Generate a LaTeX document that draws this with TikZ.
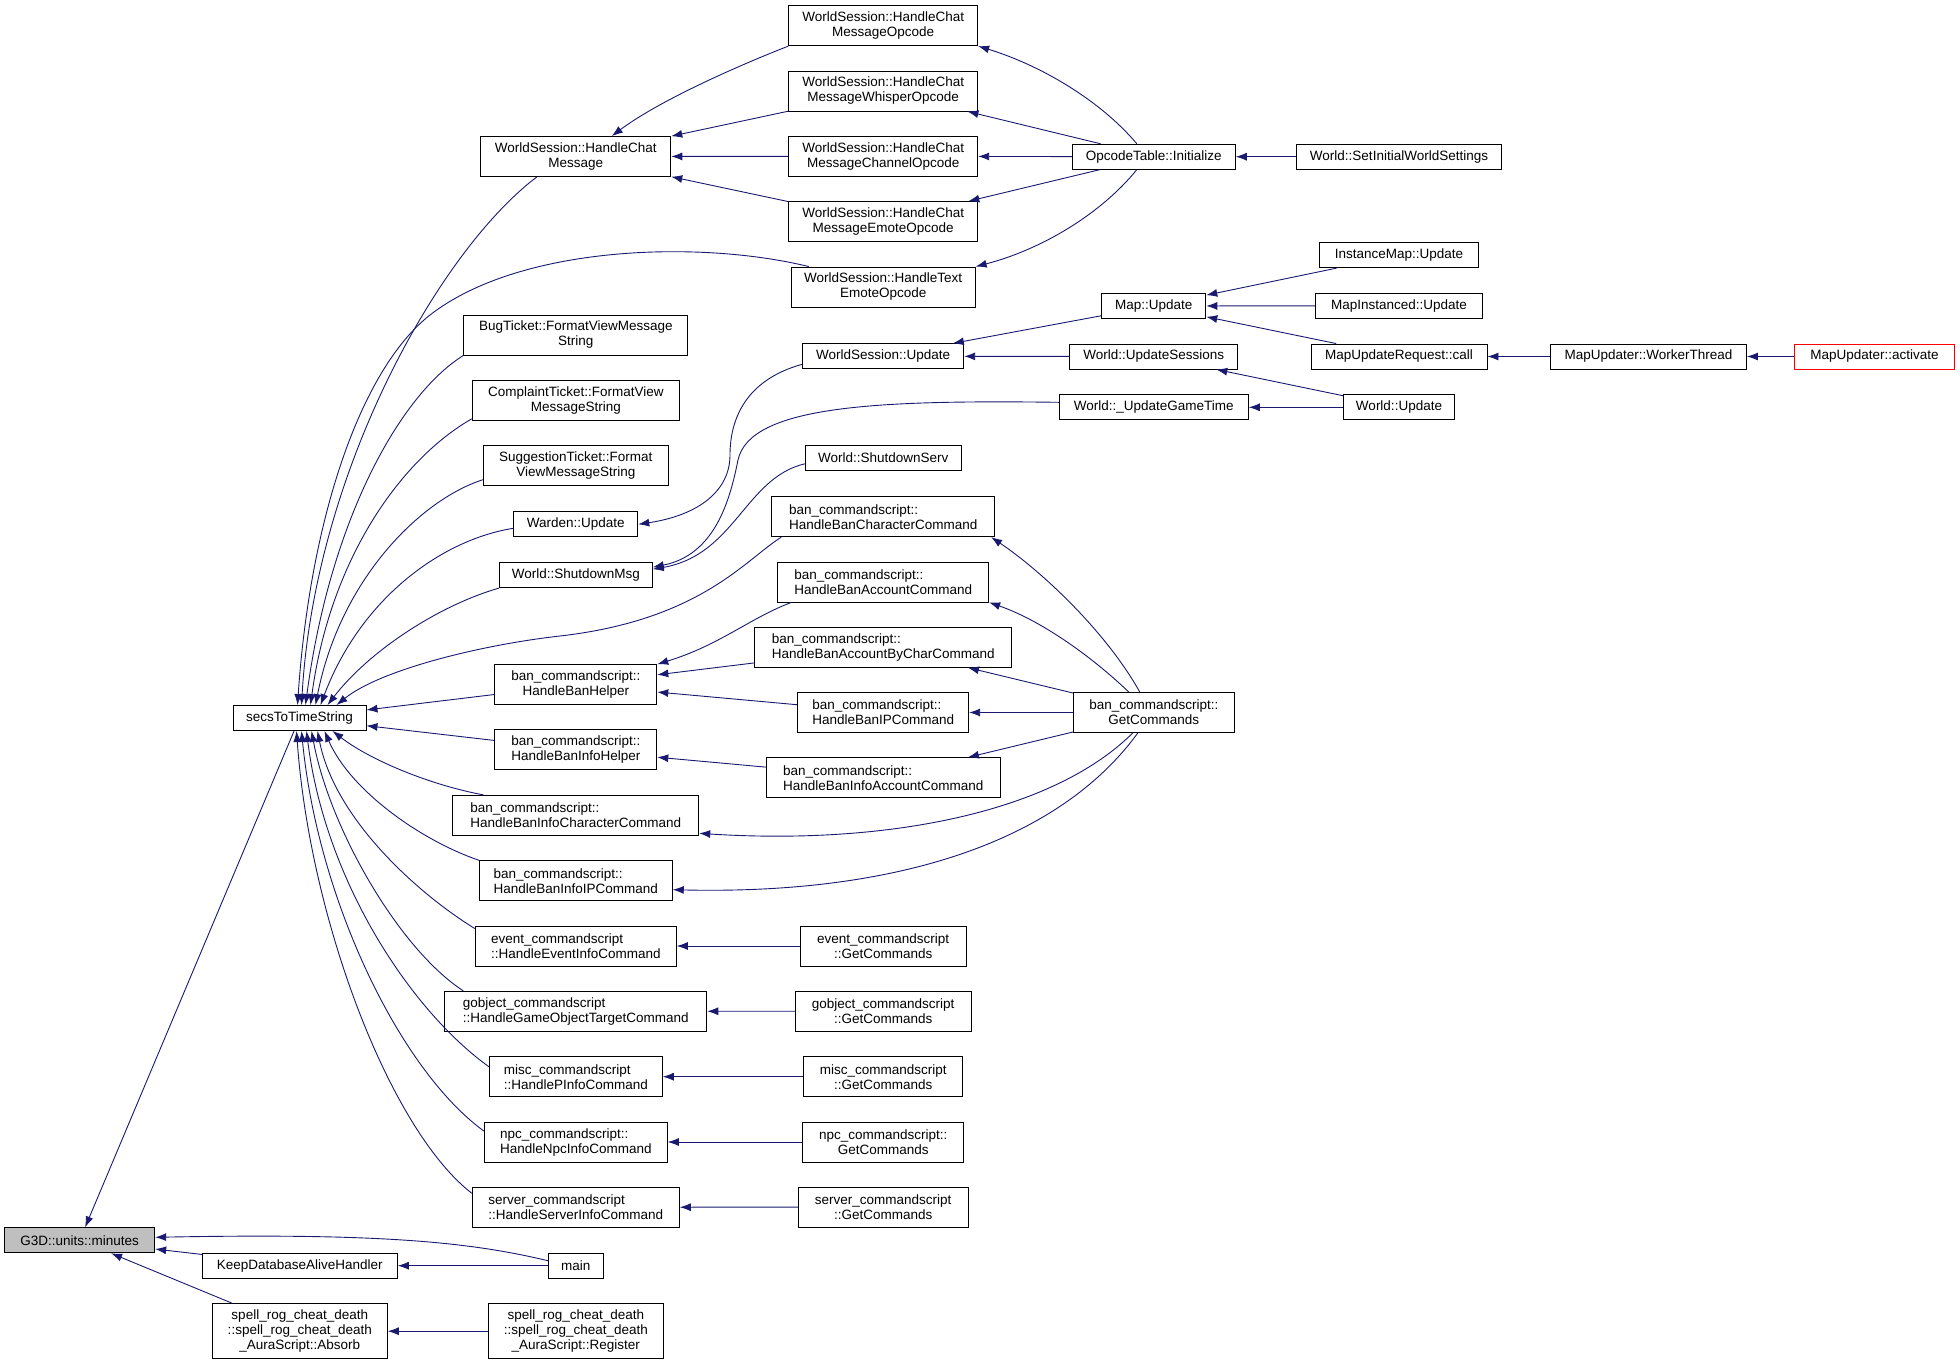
\documentclass[tikz,border=0pt]{standalone}
\usepackage{fontspec}
\newfontfamily\dxfont{Liberation Sans}
\usetikzlibrary{arrows.meta}
\definecolor{edgeblue}{RGB}{25,25,112}
\definecolor{hilite}{RGB}{191,191,191}
\begin{document}
\begin{tikzpicture}[x=1pt,y=-1pt,
	fn/.style={draw=black,line width=0.9pt,fill=white,inner xsep=0pt,inner ysep=2pt,minimum height=25pt,align=center,font=\dxfont\fontsize{13.5}{15}\selectfont},
	two/.style={minimum height=40pt},
	three/.style={minimum height=55pt},
	lft/.style={align=left},
	call/.style={draw=edgeblue,line width=0.9pt,{Latex[length=11pt,width=8pt]}-}]
	\useasboundingbox (0,0) rectangle (1960,1365);
	% column 0 and 1
	\node[fn,fill=hilite,minimum width=150pt] (minutes) at (79.7,1240.3) {G3D::units::minutes};
	\node[fn,minimum width=133pt] (secs) at (299.5,718) {secsToTimeString};
	\node[fn,minimum width=195pt] (keep) at (299.8,1265.7) {KeepDatabaseAliveHandler};
	\node[fn,three,minimum width=175pt] (absorb) at (299.8,1331.2) {spell\_rog\_cheat\_death\\::spell\_rog\_cheat\_death\\\_AuraScript::Absorb};
	% column 2
	\node[fn,two,minimum width=190pt] (hcm) at (575.8,156.5) {WorldSession::HandleChat\\Message};
	\node[fn,two,minimum width=224pt] (bug) at (575.8,335) {BugTicket::FormatViewMessage\\String};
	\node[fn,two,minimum width=207pt] (complaint) at (575.8,400.3) {ComplaintTicket::FormatView\\MessageString};
	\node[fn,two,minimum width=185pt] (suggestion) at (575.8,465.7) {SuggestionTicket::Format\\ViewMessageString};
	\node[fn,minimum width=124pt] (warden) at (575.8,524.3) {Warden::Update};
	\node[fn,minimum width=153pt] (sdmsg) at (575.8,575.2) {World::ShutdownMsg};
	\node[fn,two,minimum width=162pt] (banhelper) at (575.8,684.7) {ban\_commandscript::\\HandleBanHelper};
	\node[fn,two,minimum width=162pt] (baninfohelper) at (575.8,749.8) {ban\_commandscript::\\HandleBanInfoHelper};
	\node[fn,two,lft,minimum width=246pt] (baninfochar) at (575.8,815.3) {ban\_commandscript::\\HandleBanInfoCharacterCommand};
	\node[fn,two,lft,minimum width=193pt] (baninfoip) at (575.8,880.7) {ban\_commandscript::\\HandleBanInfoIPCommand};
	\node[fn,two,lft,minimum width=201pt] (eventinfo) at (575.8,946) {event\_commandscript\\::HandleEventInfoCommand};
	\node[fn,two,lft,minimum width=262pt] (gobjtarget) at (575.8,1011.3) {gobject\_commandscript\\::HandleGameObjectTargetCommand};
	\node[fn,two,lft,minimum width=173pt] (miscpinfo) at (575.8,1076.7) {misc\_commandscript\\::HandlePInfoCommand};
	\node[fn,two,lft,minimum width=183pt] (npcinfo) at (575.8,1142) {npc\_commandscript::\\HandleNpcInfoCommand};
	\node[fn,two,lft,minimum width=207pt] (serverinfo) at (575.8,1207.3) {server\_commandscript\\::HandleServerInfoCommand};
	\node[fn,minimum width=55pt] (main) at (575.8,1265.7) {main};
	\node[fn,three,minimum width=175pt] (register) at (575.8,1331.2) {spell\_rog\_cheat\_death\\::spell\_rog\_cheat\_death\\\_AuraScript::Register};
	% column 3
	\node[fn,two,minimum width=189pt] (hcmo) at (883.2,25.7) {WorldSession::HandleChat\\MessageOpcode};
	\node[fn,two,minimum width=189pt] (whisper) at (883.2,91) {WorldSession::HandleChat\\MessageWhisperOpcode};
	\node[fn,two,minimum width=189pt] (channel) at (883.2,156.3) {WorldSession::HandleChat\\MessageChannelOpcode};
	\node[fn,two,minimum width=189pt] (emote) at (883.2,221.7) {WorldSession::HandleChat\\MessageEmoteOpcode};
	\node[fn,two,minimum width=184pt] (hte) at (883.2,287) {WorldSession::HandleText\\EmoteOpcode};
	\node[fn,minimum width=161pt] (wsupdate) at (883.2,356.3) {WorldSession::Update};
	\node[fn,minimum width=156pt] (sdserv) at (883.2,457.8) {World::ShutdownServ};
	\node[fn,two,lft,minimum width=223pt] (banchar) at (883.2,516.7) {ban\_commandscript::\\HandleBanCharacterCommand};
	\node[fn,two,lft,minimum width=211pt] (banacc) at (883.2,582) {ban\_commandscript::\\HandleBanAccountCommand};
	\node[fn,two,lft,minimum width=257pt] (banbychar) at (883.2,647.2) {ban\_commandscript::\\HandleBanAccountByCharCommand};
	\node[fn,two,lft,minimum width=171pt] (banip) at (883.2,712.5) {ban\_commandscript::\\HandleBanIPCommand};
	\node[fn,two,lft,minimum width=234pt] (baninfoacc) at (883.2,777.8) {ban\_commandscript::\\HandleBanInfoAccountCommand};
	\node[fn,two,minimum width=166pt] (eventcmds) at (883.2,946) {event\_commandscript\\::GetCommands};
	\node[fn,two,minimum width=176pt] (gobjcmds) at (883.2,1011.2) {gobject\_commandscript\\::GetCommands};
	\node[fn,two,minimum width=159pt] (misccmds) at (883.2,1076.7) {misc\_commandscript\\::GetCommands};
	\node[fn,two,minimum width=161pt] (npccmds) at (883.2,1142) {npc\_commandscript::\\GetCommands};
	\node[fn,two,minimum width=170pt] (servercmds) at (883.2,1207) {server\_commandscript\\::GetCommands};
	% column 4 to 7
	\node[fn,minimum width=163pt] (opcode) at (1153.8,156.7) {OpcodeTable::Initialize};
	\node[fn,minimum width=104pt] (mapupdate) at (1153.8,306) {Map::Update};
	\node[fn,minimum width=168pt] (updsessions) at (1153.8,356.5) {World::UpdateSessions};
	\node[fn,minimum width=189pt] (gametime) at (1153.8,407.3) {World::\_UpdateGameTime};
	\node[fn,two,minimum width=161pt] (bancmds) at (1153.8,712.5) {ban\_commandscript::\\GetCommands};
	\node[fn,minimum width=205pt] (setinit) at (1399,156.7) {World::SetInitialWorldSettings};
	\node[fn,minimum width=159pt] (instmap) at (1399,255.2) {InstanceMap::Update};
	\node[fn,minimum width=167pt] (mapinst) at (1399,305.8) {MapInstanced::Update};
	\node[fn,minimum width=176pt] (mapreq) at (1399,356.5) {MapUpdateRequest::call};
	\node[fn,minimum width=111pt] (worldupd) at (1399,407.3) {World::Update};
	\node[fn,minimum width=196pt] (worker) at (1648.5,356.5) {MapUpdater::WorkerThread};
	\node[fn,draw=red,minimum width=160pt] (activate) at (1874.5,356.5) {MapUpdater::activate};
	% callers of G3D::units::minutes
	\draw[call] (minutes) -- (secs);
	\draw[call] (minutes) -- (keep);
	\draw[call] (minutes) -- (absorb);
	\draw[call] ([yshift=3pt]minutes.east) .. controls (380,1233) and (470,1242) .. ([yshift=5pt]main.west);
	\draw[call] (keep) -- (main);
	\draw[call] (absorb) -- (register);
	% callers of secsToTimeString
	\draw[call] ([xshift=-2pt]secs.north) .. controls (310,520) and (360,370) .. (430,315) .. controls (520,245) and (700,240) .. ([xshift=18pt]hte.north west);
	\draw[call] ([xshift=2pt]secs.north) .. controls (315,470) and (440,250) .. ([xshift=-39pt]hcm.south);
	\draw[call] ([xshift=6pt]secs.north) .. controls (330,520) and (400,395) .. (bug.south west);
	\draw[call] ([xshift=11pt]secs.north) .. controls (330,560) and (400,460) .. ([yshift=2pt]complaint.south west);
	\draw[call] ([xshift=16pt]secs.north) .. controls (340,580) and (420,500) .. ([yshift=-14pt]suggestion.west);
	\draw[call] ([xshift=21pt]secs.north) .. controls (360,600) and (440,540) .. ([yshift=-4pt]warden.west);
	\draw[call] ([xshift=28pt]secs.north) .. controls (370,650) and (440,605) .. (sdmsg.south west);
	\draw[call] ([xshift=37pt]secs.north) .. controls (380,670) and (480,645) .. (560,636) .. controls (700,620) and (745,560) .. ([xshift=10pt]banchar.south west);
	\draw[call] (secs) -- (banhelper);
	\draw[call] (secs) -- (baninfohelper);
	\draw[call] ([xshift=33pt]secs.south) .. controls (370,760) and (430,785) .. ([xshift=31pt]baninfochar.north west);
	\draw[call] ([xshift=25pt]secs.south) .. controls (350,790) and (420,840) .. (baninfoip.north west);
	\draw[call] ([xshift=18pt]secs.south) .. controls (335,820) and (420,895) .. ([yshift=-3pt]eventinfo.north west);
	\draw[call] ([xshift=12pt]secs.south) .. controls (330,830) and (400,950) .. ([xshift=19pt]gobjtarget.north west);
	\draw[call] ([xshift=7pt]secs.south) .. controls (325,880) and (410,1010) .. ([yshift=10pt]miscpinfo.west);
	\draw[call] ([xshift=2pt]secs.south) .. controls (318,900) and (400,1070) .. ([yshift=11pt]npcinfo.west);
	\draw[call] ([xshift=-3pt]secs.south) .. controls (310,920) and (390,1130) .. ([yshift=14pt]serverinfo.west);
	% chat handlers
	\draw[call] ([xshift=36pt]hcm.north) .. controls (660,100) and (740,65) .. (hcmo.south west);
	\draw[call] (hcm) -- (whisper);
	\draw[call] (hcm) -- (channel);
	\draw[call] (hcm) -- (emote);
	\draw[call] (hcmo.south east) .. controls (1040,65) and (1100,100) .. ([xshift=-17pt]opcode.north);
	\draw[call] (whisper) -- (opcode);
	\draw[call] (channel) -- (opcode);
	\draw[call] (emote) -- (opcode);
	\draw[call] (hte.north east) .. controls (1040,250) and (1100,215) .. ([xshift=-17pt]opcode.south);
	\draw[call] (opcode) -- (setinit);
	% updates
	\draw[call] (mapupdate) -- (instmap);
	\draw[call] (mapupdate) -- (mapinst);
	\draw[call] (mapupdate) -- (mapreq);
	\draw[call] (mapreq) -- (worker);
	\draw[call] (worker) -- (activate);
	\draw[call] (wsupdate) -- (mapupdate);
	\draw[call] (wsupdate) -- (updsessions);
	\draw[call] (updsessions) -- (worldupd);
	\draw[call] (gametime) -- (worldupd);
	\draw[call] (warden.east) .. controls (700,515) and (730,490) .. (730,455) .. controls (730,420) and (745,380) .. ([yshift=-8pt]wsupdate.west);
	\draw[call] ([yshift=8pt]sdmsg.east) .. controls (715,555) and (730,500) .. (738,460) .. controls (750,405) and (880,400) .. ([yshift=5pt]gametime.west);
	\draw[call] ([yshift=6pt]sdmsg.east) .. controls (735,555) and (745,478) .. ([yshift=-6pt]sdserv.west);
	% ban commands
	\draw[call] ([xshift=-4pt]banchar.south east) .. controls (1040,570) and (1105,630) .. ([xshift=-14pt]bancmds.north);
	\draw[call] (banacc.south east) .. controls (1040,620) and (1090,655) .. ([xshift=-25pt]bancmds.north);
	\draw[call] (banbychar) -- (bancmds);
	\draw[call] (banip) -- (bancmds);
	\draw[call] (baninfoacc) -- (bancmds);
	\draw[call] ([yshift=-18pt]baninfochar.east) .. controls (880,845) and (1050,815) .. ([xshift=-21pt]bancmds.south);
	\draw[call] ([yshift=-9pt]baninfoip.east) .. controls (900,895) and (1060,840) .. ([xshift=-16pt]bancmds.south);
	\draw[call] (banhelper.north east) .. controls (720,645) and (750,618) .. ([xshift=14pt]banacc.south west);
	\draw[call] (banhelper) -- (banbychar);
	\draw[call] (banhelper) -- (banip);
	\draw[call] (baninfohelper) -- (baninfoacc);
	% other command scripts
	\draw[call] (eventinfo) -- (eventcmds);
	\draw[call] (gobjtarget) -- (gobjcmds);
	\draw[call] (miscpinfo) -- (misccmds);
	\draw[call] (npcinfo) -- (npccmds);
	\draw[call] (serverinfo) -- (servercmds);
\end{tikzpicture}
\end{document}
